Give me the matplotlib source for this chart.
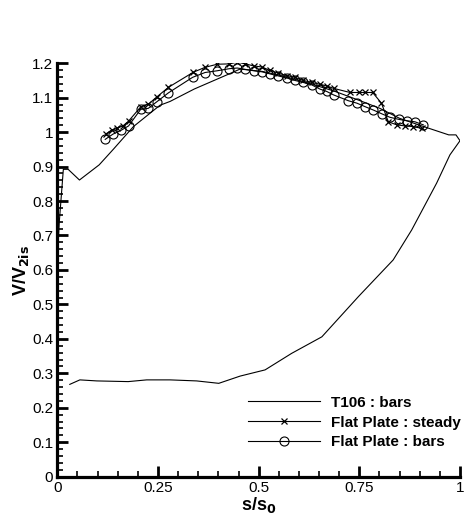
import matplotlib
matplotlib.use("Agg")
import matplotlib.pyplot as plt
from matplotlib.ticker import MultipleLocator, FuncFormatter

plt.rcParams["font.family"] = ["Liberation Sans", "DejaVu Sans"]

# T106 : bars  (pressure side LE->TE, then suction side TE->LE)
t106_s = [0.031, 0.056, 0.098, 0.176, 0.222, 0.280, 0.346, 0.401, 0.454, 0.516,
          0.582, 0.657, 0.748, 0.834, 0.880, 0.942, 0.975, 1.000, 0.990, 0.972,
          0.910, 0.850, 0.801, 0.750, 0.690, 0.630, 0.570, 0.510, 0.454, 0.421,
          0.340, 0.280, 0.255, 0.189, 0.139, 0.104, 0.055, 0.027, 0.015, 0.005,
          0.001]
t106_v = [0.268, 0.281, 0.278, 0.276, 0.281, 0.281, 0.278, 0.271, 0.292, 0.310,
          0.358, 0.406, 0.523, 0.629, 0.716, 0.852, 0.934, 0.975, 0.992, 0.992,
          1.016, 1.040, 1.069, 1.092, 1.118, 1.140, 1.160, 1.176, 1.183, 1.166,
          1.125, 1.089, 1.078, 1.016, 0.950, 0.905, 0.861, 0.892, 0.892, 0.740,
          0.650]

# Flat Plate : steady
fps_s = [0.121, 0.135, 0.148, 0.163, 0.177, 0.207, 0.226, 0.247, 0.276, 0.338,
         0.367, 0.397, 0.427, 0.447, 0.467, 0.488, 0.508, 0.528, 0.549, 0.570,
         0.590, 0.611, 0.632, 0.652, 0.669, 0.686, 0.727, 0.748, 0.764, 0.783,
         0.805, 0.822, 0.843, 0.863, 0.884, 0.905]
fps_v = [0.995, 1.006, 1.011, 1.018, 1.032, 1.073, 1.081, 1.102, 1.130, 1.174,
         1.188, 1.197, 1.198, 1.203, 1.198, 1.192, 1.189, 1.179, 1.171, 1.164,
         1.159, 1.150, 1.144, 1.139, 1.134, 1.127, 1.115, 1.115, 1.115, 1.115,
         1.084, 1.030, 1.021, 1.018, 1.016, 1.011]

# Flat Plate : bars
fpb_s = [0.119, 0.138, 0.158, 0.177, 0.207, 0.226, 0.247, 0.276, 0.336, 0.367,
         0.397, 0.427, 0.447, 0.467, 0.488, 0.508, 0.528, 0.549, 0.570, 0.590,
         0.611, 0.632, 0.652, 0.669, 0.686, 0.723, 0.744, 0.764, 0.785, 0.806,
         0.826, 0.848, 0.868, 0.888, 0.909]
fpb_v = [0.979, 0.994, 1.005, 1.018, 1.066, 1.069, 1.088, 1.114, 1.159, 1.173,
         1.178, 1.184, 1.186, 1.182, 1.178, 1.175, 1.169, 1.163, 1.157, 1.150,
         1.144, 1.137, 1.125, 1.118, 1.108, 1.091, 1.084, 1.074, 1.064, 1.053,
         1.043, 1.037, 1.033, 1.030, 1.021]

fig = plt.figure(figsize=(4.67, 5.18), dpi=100)
ax = fig.add_axes([0.1227, 0.0797, 0.8623, 0.7983])

ax.plot(t106_s, t106_v, color="k", lw=0.8, label="T106 : bars")
ax.plot(fps_s, fps_v, color="k", lw=0.8, marker="x", ms=4.5, mew=0.9,
        label="Flat Plate : steady")
ax.plot(fpb_s, fpb_v, color="k", lw=0.8, marker="o", ms=6.5, mfc="none",
        mew=0.8, label="Flat Plate : bars")

ax.set_xlim(0, 1)
ax.set_ylim(0, 1.2)
for side in ("top", "right"):
    ax.spines[side].set_visible(False)
for side in ("left", "bottom"):
    ax.spines[side].set_linewidth(2.3)

fmt = FuncFormatter(lambda v, p: f"{v:g}")
ax.xaxis.set_major_locator(MultipleLocator(0.25))
ax.xaxis.set_minor_locator(MultipleLocator(0.05))
ax.yaxis.set_major_locator(MultipleLocator(0.1))
ax.yaxis.set_minor_locator(MultipleLocator(0.02))
ax.xaxis.set_major_formatter(fmt)
ax.yaxis.set_major_formatter(fmt)
ax.tick_params(which="major", direction="in", length=8, width=2, labelsize=11, pad=3)
ax.tick_params(which="minor", direction="in", length=4.5, width=1.2)

ax.set_xlabel("s/s$_\\mathbf{0}$", fontsize=13, fontweight="bold", labelpad=0)
ax.set_ylabel("V/V$_\\mathbf{2is}$", fontsize=13, fontweight="bold", labelpad=1)

leg = ax.legend(loc="lower left", bbox_to_anchor=(0.474, 0.066), frameon=False,
                handlelength=4.7, handletextpad=0.75, labelspacing=0.38,
                prop={"weight": "bold", "size": 11}, borderaxespad=0, borderpad=0)

fig.savefig("out.png", dpi=100)
